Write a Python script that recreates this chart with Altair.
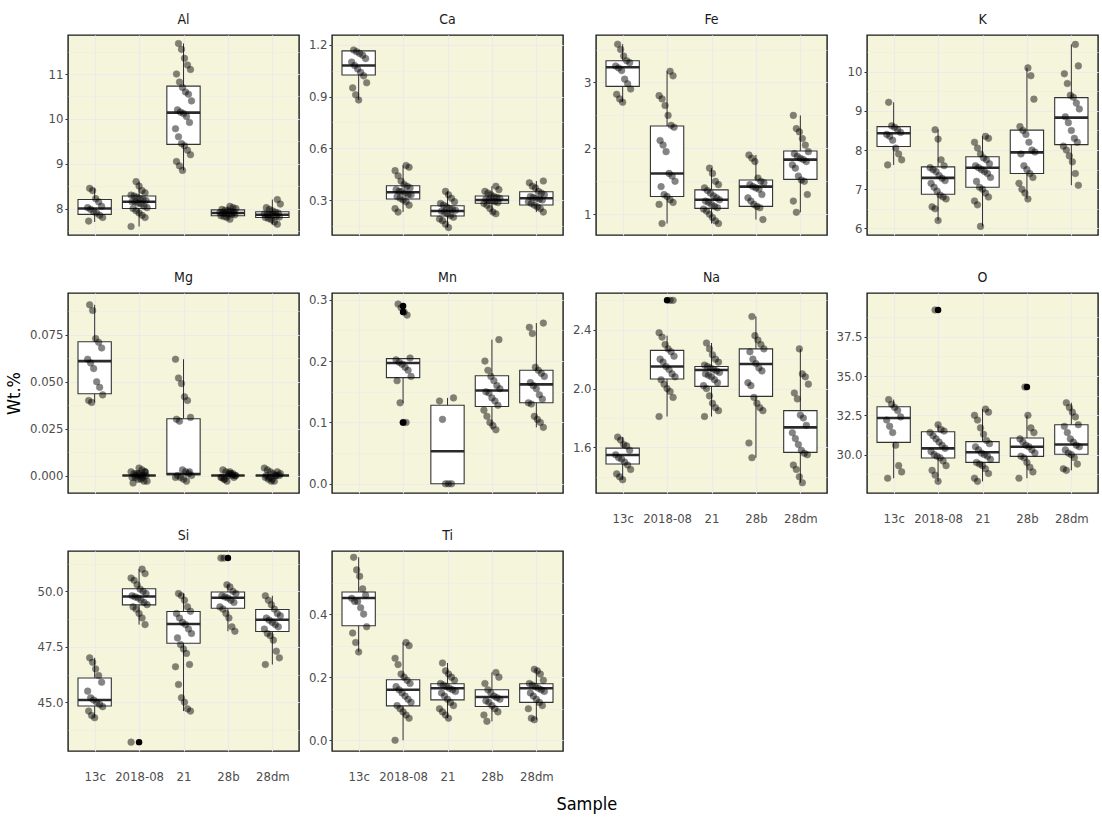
import json
import altair as alt
import pandas as pd

SAMPLES = ["13c", "2018-08", "21", "28b", "28dm"]
ELEMENTS = ["Al", "Ca", "Fe", "K", "Mg", "Mn", "Na", "O", "Si", "Ti"]

# ---------------- point values (Wt.%) ----------------
AL_PTS = {
    "13c": [8.45, 8.40, 8.22, 8.15, 8.05, 8.02, 7.98, 7.93, 7.90, 7.85, 7.80, 7.72],
    "2018-08": [8.60, 8.50, 8.40, 8.35, 8.30, 8.28, 8.25, 8.22, 8.20, 8.18, 8.15, 8.15, 8.12, 8.10, 8.05, 8.02, 8.00, 7.95, 7.90, 7.85, 7.80, 7.60],
    "21": [11.68, 11.55, 11.35, 11.20, 11.10, 11.00, 10.82, 10.70, 10.60, 10.55, 10.40, 10.20, 10.15, 10.12, 10.05, 9.92, 9.78, 9.60, 9.45, 9.40, 9.30, 9.20, 9.05, 8.95, 8.85],
    "28b": [8.05, 8.02, 8.00, 7.98, 7.96, 7.95, 7.94, 7.92, 7.91, 7.90, 7.89, 7.88, 7.87, 7.86, 7.84, 7.82, 7.80, 7.76],
    "28dm": [8.20, 8.10, 8.02, 7.98, 7.95, 7.92, 7.90, 7.88, 7.87, 7.86, 7.85, 7.83, 7.81, 7.80, 7.78, 7.75, 7.70, 7.65],
}
CA_PTS = {
    "13c": [1.17, 1.16, 1.15, 1.14, 1.12, 1.10, 1.08, 1.06, 1.04, 1.02, 0.98, 0.95, 0.91, 0.88],
    "2018-08": [0.50, 0.49, 0.47, 0.44, 0.41, 0.39, 0.38, 0.37, 0.36, 0.35, 0.35, 0.34, 0.33, 0.33, 0.32, 0.31, 0.30, 0.29, 0.27, 0.25, 0.23],
    "21": [0.35, 0.33, 0.31, 0.29, 0.28, 0.27, 0.26, 0.25, 0.245, 0.24, 0.235, 0.23, 0.22, 0.21, 0.20, 0.19, 0.18, 0.16, 0.14],
    "28b": [0.38, 0.36, 0.35, 0.34, 0.33, 0.32, 0.315, 0.31, 0.305, 0.30, 0.295, 0.29, 0.285, 0.28, 0.27, 0.25, 0.23, 0.22],
    "28dm": [0.41, 0.40, 0.38, 0.37, 0.35, 0.34, 0.33, 0.32, 0.315, 0.31, 0.305, 0.30, 0.29, 0.28, 0.27, 0.26, 0.25, 0.23],
}
FE_PTS = {
    "13c": [3.58, 3.50, 3.40, 3.33, 3.30, 3.25, 3.22, 3.18, 3.05, 2.98, 2.90, 2.82, 2.75, 2.70],
    "2018-08": [3.17, 3.10, 2.80, 2.75, 2.65, 2.50, 2.35, 2.32, 2.12, 2.05, 1.95, 1.62, 1.58, 1.50, 1.42, 1.30, 1.27, 1.22, 1.18, 1.15, 0.86],
    "21": [1.70, 1.62, 1.50, 1.45, 1.40, 1.36, 1.32, 1.28, 1.25, 1.22, 1.20, 1.18, 1.15, 1.12, 1.10, 1.08, 1.05, 1.00, 0.95, 0.90, 0.86],
    "28b": [1.90, 1.85, 1.80, 1.55, 1.50, 1.48, 1.45, 1.42, 1.40, 1.38, 1.30, 1.25, 1.20, 1.15, 1.12, 1.10, 0.92],
    "28dm": [2.50, 2.30, 2.25, 2.15, 2.05, 1.95, 1.92, 1.88, 1.85, 1.83, 1.80, 1.75, 1.70, 1.58, 1.52, 1.50, 1.30, 1.20, 1.03],
}
K_PTS = {
    "13c": [9.22, 8.62, 8.58, 8.52, 8.45, 8.40, 8.35, 8.25, 8.05, 7.90, 7.75, 7.62],
    "2018-08": [8.52, 8.28, 7.75, 7.60, 7.55, 7.50, 7.45, 7.35, 7.28, 7.22, 7.15, 7.05, 6.95, 6.85, 6.80, 6.75, 6.55, 6.50, 6.20],
    "21": [8.35, 8.30, 8.20, 8.05, 7.90, 7.80, 7.75, 7.65, 7.60, 7.55, 7.50, 7.45, 7.40, 7.30, 7.20, 7.05, 7.00, 6.90, 6.80, 6.70, 6.60, 6.05],
    "28b": [10.10, 9.90, 9.30, 8.60, 8.50, 8.40, 8.20, 8.00, 7.95, 7.90, 7.60, 7.50, 7.40, 7.30, 7.15, 7.00, 6.90, 6.75],
    "28dm": [10.70, 10.15, 9.95, 9.70, 9.40, 9.35, 9.20, 9.05, 8.85, 8.70, 8.50, 8.30, 8.20, 8.10, 8.00, 7.85, 7.70, 7.40, 7.10],
}
MG_PTS = {
    "13c": [0.091, 0.088, 0.073, 0.071, 0.068, 0.062, 0.060, 0.057, 0.050, 0.047, 0.043, 0.040, 0.039],
    "2018-08": [0.004, 0.003, 0.002, 0.002, 0.001, 0.001, 0.0, 0.0, 0.0, -0.001, -0.001, -0.002, -0.002, -0.003, -0.003, -0.004, 0.0, 0.001, -0.001, 0.002],
    "21": [0.062, 0.052, 0.049, 0.042, 0.040, 0.031, 0.030, 0.029, 0.003, 0.002, 0.001, 0.0, 0.0, -0.001, -0.002, -0.003, 0.002, -0.001],
    "28b": [0.003, 0.002, 0.001, 0.0, 0.0, -0.001, -0.002, -0.003, 0.002, 0.001, 0.0, -0.001, -0.002, 0.0, 0.001, -0.001],
    "28dm": [0.004, 0.003, 0.002, 0.001, 0.0, 0.0, -0.001, -0.002, -0.003, -0.003, 0.002, 0.001, 0.0, -0.001, -0.002, 0.0],
}
MN_PTS = {
    "13c": [],
    "2018-08": [0.293, 0.287, 0.280, 0.275, 0.205, 0.202, 0.198, 0.195, 0.190, 0.185, 0.175, 0.168, 0.132, 0.100, 0.100],
    "21": [0.140, 0.135, 0.105, 0.0, 0.0, 0.0],
    "28b": [0.235, 0.200, 0.185, 0.175, 0.168, 0.160, 0.155, 0.150, 0.148, 0.140, 0.135, 0.128, 0.120, 0.110, 0.100, 0.095, 0.088],
    "28dm": [0.262, 0.255, 0.245, 0.190, 0.185, 0.180, 0.175, 0.165, 0.160, 0.155, 0.145, 0.138, 0.132, 0.130, 0.110, 0.105, 0.100, 0.092],
}
NA_PTS = {
    "13c": [1.67, 1.65, 1.62, 1.61, 1.58, 1.55, 1.53, 1.52, 1.50, 1.48, 1.45, 1.42, 1.40, 1.38],
    "2018-08": [2.60, 2.60, 2.38, 2.35, 2.30, 2.27, 2.25, 2.22, 2.20, 2.18, 2.15, 2.13, 2.10, 2.08, 2.06, 2.03, 2.00, 1.98, 1.94, 1.81],
    "21": [2.31, 2.27, 2.23, 2.20, 2.18, 2.16, 2.15, 2.14, 2.13, 2.12, 2.11, 2.10, 2.09, 2.08, 2.06, 2.04, 2.02, 2.00, 1.95, 1.90, 1.87, 1.85, 1.81],
    "28b": [2.49, 2.36, 2.33, 2.30, 2.27, 2.25, 2.20, 2.17, 2.14, 2.12, 2.04, 2.02, 1.94, 1.90, 1.87, 1.85, 1.63, 1.53],
    "28dm": [2.27, 2.10, 2.08, 2.03, 1.97, 1.93, 1.82, 1.80, 1.75, 1.70, 1.66, 1.62, 1.58, 1.56, 1.55, 1.48, 1.45, 1.40, 1.36],
}
O_PTS = {
    "13c": [33.5, 33.2, 33.0, 32.8, 32.4, 32.2, 31.8, 31.4, 30.6, 29.3, 28.9, 28.5],
    "2018-08": [39.2, 31.9, 31.6, 31.5, 31.4, 31.2, 31.0, 30.8, 30.6, 30.4, 30.2, 30.0, 29.9, 29.8, 29.6, 29.3, 29.0, 28.7, 28.3],
    "21": [32.9, 32.7, 32.5, 32.2, 31.7, 31.3, 30.9, 30.7, 30.5, 30.3, 30.1, 30.0, 29.9, 29.7, 29.5, 29.4, 29.3, 29.1, 28.8, 28.5, 28.3],
    "28b": [34.3, 32.5, 31.7, 31.4, 31.0, 30.8, 30.6, 30.5, 30.3, 30.1, 29.9, 29.8, 29.5, 29.2, 28.9, 28.5],
    "28dm": [33.3, 33.0, 32.7, 32.4, 31.9, 31.8, 31.4, 31.0, 30.8, 30.6, 30.5, 30.3, 30.1, 30.0, 29.8, 29.4, 29.1, 29.0],
}
SI_PTS = {
    "13c": [47.0, 46.8, 46.5, 46.2, 45.9, 45.5, 45.2, 45.1, 45.0, 44.9, 44.8, 44.6, 44.4, 44.3],
    "2018-08": [51.0, 50.8, 50.6, 50.5, 50.3, 50.1, 50.0, 49.9, 49.8, 49.75, 49.7, 49.6, 49.5, 49.4, 49.3, 49.2, 49.0, 48.8, 48.5, 43.2],
    "21": [49.9, 49.8, 49.6, 49.3, 49.1, 49.0, 48.8, 48.6, 48.5, 48.3, 48.1, 47.9, 47.6, 47.4, 47.2, 46.7, 46.6, 45.8, 45.2, 45.0, 44.7, 44.6],
    "28b": [51.5, 51.5, 50.3, 50.2, 50.0, 49.9, 49.8, 49.75, 49.7, 49.6, 49.5, 49.3, 49.2, 49.0, 48.8, 48.4, 48.2],
    "28dm": [49.8, 49.6, 49.4, 49.2, 49.0, 48.9, 48.8, 48.7, 48.6, 48.5, 48.4, 48.3, 48.1, 48.0, 47.8, 47.3, 47.0, 46.7],
}
TI_PTS = {
    "13c": [0.58, 0.54, 0.52, 0.48, 0.46, 0.45, 0.44, 0.44, 0.42, 0.40, 0.36, 0.34, 0.31, 0.28],
    "2018-08": [0.31, 0.30, 0.26, 0.24, 0.21, 0.20, 0.19, 0.18, 0.17, 0.16, 0.15, 0.14, 0.13, 0.12, 0.11, 0.10, 0.09, 0.08, 0.07, 0.0],
    "21": [0.245, 0.22, 0.21, 0.20, 0.19, 0.18, 0.175, 0.17, 0.165, 0.16, 0.155, 0.15, 0.14, 0.13, 0.12, 0.11, 0.10, 0.09, 0.08, 0.07],
    "28b": [0.215, 0.20, 0.18, 0.16, 0.15, 0.14, 0.135, 0.13, 0.125, 0.12, 0.11, 0.10, 0.09, 0.08, 0.06],
    "28dm": [0.225, 0.22, 0.21, 0.19, 0.18, 0.175, 0.17, 0.165, 0.16, 0.155, 0.15, 0.14, 0.13, 0.12, 0.11, 0.10, 0.07, 0.065],
}

# ---------------- box statistics (lower whisker, Q1, median, Q3, upper whisker) per sample ----------------
AL_BOX = {"lo": [7.70, 7.60, 8.85, 7.76, 7.65], "q1": [7.87, 8.00, 9.43, 7.84, 7.80], "med": [8.00, 8.15, 10.14, 7.90, 7.86], "q3": [8.20, 8.28, 10.73, 7.97, 7.93], "hi": [8.45, 8.60, 11.68, 8.05, 8.20]}
CA_BOX = {"lo": [0.88, 0.23, 0.14, 0.22, 0.23], "q1": [1.025, 0.306, 0.207, 0.281, 0.271], "med": [1.08, 0.345, 0.236, 0.300, 0.310], "q3": [1.165, 0.383, 0.267, 0.323, 0.348], "hi": [1.17, 0.50, 0.35, 0.38, 0.41]}
FE_BOX = {"lo": [2.70, 0.86, 0.86, 0.92, 1.03], "q1": [2.94, 1.27, 1.09, 1.12, 1.53], "med": [3.23, 1.62, 1.22, 1.42, 1.83], "q3": [3.33, 2.34, 1.37, 1.52, 1.96], "hi": [3.58, 3.17, 1.70, 1.90, 2.50]}
K_BOX = {"lo": [7.62, 6.20, 6.05, 6.75, 7.10], "q1": [8.09, 6.87, 7.05, 7.40, 8.14], "med": [8.43, 7.29, 7.55, 7.94, 8.83], "q3": [8.60, 7.57, 7.83, 8.51, 9.34], "hi": [9.22, 8.52, 8.35, 10.10, 10.70]}
MG_BOX = {"lo": [0.039, 0.0, 0.0005, 0.0, 0.0], "q1": [0.0436, 0.0, 0.0005, 0.0, 0.0], "med": [0.061, 0.0, 0.0008, 0.0, 0.0], "q3": [0.0713, 0.0, 0.0303, 0.0, 0.0], "hi": [0.091, 0.0, 0.062, 0.0, 0.0]}
MN_BOX = {"lo": [None, 0.132, 0.0, 0.088, 0.092], "q1": [None, 0.173, 0.0, 0.126, 0.132], "med": [None, 0.197, 0.053, 0.152, 0.162], "q3": [None, 0.204, 0.128, 0.176, 0.185], "hi": [None, 0.205, 0.140, 0.235, 0.262]}
NA_BOX = {"lo": [1.38, 1.81, 1.81, 1.53, 1.36], "q1": [1.487, 2.065, 2.015, 1.947, 1.566], "med": [1.548, 2.150, 2.126, 2.167, 1.736], "q3": [1.595, 2.260, 2.150, 2.270, 1.850], "hi": [1.67, 2.36, 2.31, 2.49, 2.27]}
O_BOX = {"lo": [28.5, 28.3, 28.3, 28.5, 29.0], "q1": [30.78, 29.79, 29.51, 29.89, 30.02], "med": [32.33, 30.40, 30.15, 30.50, 30.64], "q3": [33.05, 31.46, 30.83, 31.06, 31.90], "hi": [33.5, 31.9, 32.9, 32.5, 33.3]}
SI_BOX = {"lo": [44.3, 48.5, 44.6, 48.2, 46.7], "q1": [44.83, 49.39, 47.66, 49.24, 48.19], "med": [45.10, 49.77, 48.53, 49.71, 48.72], "q3": [46.09, 50.12, 49.09, 49.97, 49.18], "hi": [47.0, 51.0, 49.9, 50.3, 49.8]}
TI_BOX = {"lo": [0.28, 0.0, 0.07, 0.06, 0.065], "q1": [0.363, 0.109, 0.128, 0.107, 0.120], "med": [0.451, 0.160, 0.165, 0.137, 0.165], "q3": [0.470, 0.192, 0.179, 0.160, 0.179], "hi": [0.58, 0.31, 0.245, 0.215, 0.225]}

# ---------------- outliers drawn by the box plot ----------------
AL_OUT = {}
CA_OUT = {}
FE_OUT = {}
K_OUT = {}
MG_OUT = {}
MN_OUT = {"2018-08": [0.290, 0.280, 0.100]}
NA_OUT = {"2018-08": [2.60]}
O_OUT = {"2018-08": [39.2], "28b": [34.3]}
SI_OUT = {"2018-08": [43.2], "28b": [51.5]}
TI_OUT = {}

# ---------------- y axis settings ----------------
Y_DOMAINS = {
    "Al": [7.41, 11.87], "Ca": [0.097, 1.257], "Fe": [0.686, 3.72], "K": [5.83, 10.94],
    "Mg": [-0.0093, 0.0973], "Mn": [-0.015, 0.311], "Na": [1.29, 2.65], "O": [27.56, 40.28],
    "Si": [42.80, 51.82], "Ti": [-0.034, 0.60],
}
Y_MAJOR = {
    "Al": [8, 9, 10, 11], "Ca": [0.3, 0.6, 0.9, 1.2], "Fe": [1, 2, 3], "K": [6, 7, 8, 9, 10],
    "Mg": [0, 0.025, 0.05, 0.075], "Mn": [0, 0.1, 0.2, 0.3], "Na": [1.6, 2.0, 2.4],
    "O": [30, 32.5, 35, 37.5], "Si": [45, 47.5, 50], "Ti": [0, 0.2, 0.4],
}
Y_MINOR = {
    "Al": [7.5, 8.5, 9.5, 10.5, 11.5], "Ca": [0.15, 0.45, 0.75, 1.05], "Fe": [1.5, 2.5, 3.5],
    "K": [6.5, 7.5, 8.5, 9.5, 10.5], "Mg": [0.0125, 0.0375, 0.0625, 0.0875],
    "Mn": [0.05, 0.15, 0.25], "Na": [1.4, 1.8, 2.2, 2.6], "O": [28.75, 31.25, 33.75, 36.25, 38.75],
    "Si": [43.75, 46.25, 48.75, 51.25], "Ti": [0.1, 0.3, 0.5],
}
Y_FMT = {"Al": ".0f", "Ca": ".1f", "Fe": ".0f", "K": ".0f", "Mg": ".3f", "Mn": ".1f",
         "Na": ".1f", "O": ".1f", "Si": ".1f", "Ti": ".1f"}

PTS = {"Al": AL_PTS, "Ca": CA_PTS, "Fe": FE_PTS, "K": K_PTS, "Mg": MG_PTS, "Mn": MN_PTS,
       "Na": NA_PTS, "O": O_PTS, "Si": SI_PTS, "Ti": TI_PTS}
BOX = {"Al": AL_BOX, "Ca": CA_BOX, "Fe": FE_BOX, "K": K_BOX, "Mg": MG_BOX, "Mn": MN_BOX,
       "Na": NA_BOX, "O": O_BOX, "Si": SI_BOX, "Ti": TI_BOX}
OUT = {"Al": AL_OUT, "Ca": CA_OUT, "Fe": FE_OUT, "K": K_OUT, "Mg": MG_OUT, "Mn": MN_OUT,
       "Na": NA_OUT, "O": O_OUT, "Si": SI_OUT, "Ti": TI_OUT}

BOTTOM = {"Na", "O", "Si", "Ti"}

FONT = "Liberation Sans Narrow, Arial Narrow, DejaVu Sans Condensed, Liberation Sans, sans-serif"
LABEL_COLOR = "#4D4D4D"
W, H = 231, 200
HALF_BOX = 0.375   # box half-width in category units (ggplot width 0.75)
JIT = 0.18         # jitter half-width in category units
S_JSON = json.dumps(SAMPLES)


def panel(el):
    majors = Y_MAJOR[el]
    ticks = sorted(Y_MAJOR[el] + Y_MINOR[el])
    is_major = f"indexof({json.dumps(majors)}, datum.value) >= 0"
    yaxis = alt.Axis(
        values=ticks,
        labelExpr=f"{is_major} ? format(datum.value, '{Y_FMT[el]}') : ''",
        title="Wt.%" if el == "Mg" else None,
        titleFont=FONT, titleFontSize=18, titleColor="black", titleFontWeight="normal",
        titlePadding=6,
        grid=True,
        gridColor="#EBEBEB",
        gridWidth={"condition": {"test": is_major, "value": 1.1}, "value": 0.6},
        tickColor={"condition": {"test": is_major, "value": "#333333"}, "value": "transparent"},
        tickSize=3, domain=False, labelPadding=2,
        labelFont=FONT, labelFontSize=13, labelColor=LABEL_COLOR,
    )
    bottom = el in BOTTOM
    xaxis = alt.Axis(
        title=None, values=list(range(len(SAMPLES))), labelExpr=f"{S_JSON}[datum.value]",
        labelAngle=0, grid=True, gridColor="#EBEBEB", gridWidth=1.1,
        domain=False, ticks=False, labelPadding=19,
        labelColor=LABEL_COLOR if bottom else "transparent",
        labelFont=FONT, labelFontSize=13,
    )
    xscale = alt.Scale(domain=[-0.6, len(SAMPLES) - 0.4], nice=False, zero=False)
    yscale = alt.Scale(domain=Y_DOMAINS[el], nice=False, zero=False)

    def X(field):
        return alt.X(f"{field}:Q", scale=xscale, axis=xaxis)

    def Y(field):
        return alt.Y(f"{field}:Q", scale=yscale, axis=yaxis)

    b = BOX[el]
    box_rows = []
    for i, s in enumerate(SAMPLES):
        if b["q1"][i] is None:
            continue
        box_rows.append({"Sample": s, "lo": b["lo"][i], "q1": b["q1"][i], "med": b["med"][i],
                         "q3": b["q3"][i], "hi": b["hi"][i]})
    box_df = pd.DataFrame(box_rows)
    pts_df = pd.DataFrame([{"Sample": s, "Value": v} for s in SAMPLES for v in PTS[el][s]])
    out_rows = [{"Sample": s, "Value": v} for s, vals in OUT[el].items() for v in vals]
    out_df = pd.DataFrame(out_rows if out_rows else [{"Sample": "13c", "Value": None}])

    idx_expr = f"indexof({S_JSON}, datum.Sample)"
    box_base = alt.Chart(box_df).transform_calculate(
        idx=idx_expr
    ).transform_calculate(
        xl=f"datum.idx - {HALF_BOX}", xr=f"datum.idx + {HALF_BOX}"
    )

    whisker = box_base.mark_rule(color="#333333", strokeWidth=1).encode(
        x=X("idx"), y=Y("lo"), y2="hi")
    box = box_base.mark_rect(fill="white", stroke="#333333", strokeWidth=1.1).encode(
        x=X("xl"), x2="xr", y=Y("q1"), y2="q3")
    med = box_base.mark_rule(color="#2A2A2A", strokeWidth=2.6).encode(
        x=X("xl"), x2="xr", y=Y("med"))
    outl = alt.Chart(out_df).transform_filter("isValid(datum.Value)").transform_calculate(
        idx=idx_expr
    ).mark_circle(color="black", opacity=1, size=42).encode(x=X("idx"), y=Y("Value"))
    points = alt.Chart(pts_df).transform_window(
        rn="row_number()"
    ).transform_calculate(
        jx=f"{idx_expr} + (((datum.rn * 37) % 17) / 16) * {2 * JIT} - {JIT}"
    ).mark_circle(color="black", opacity=0.48, size=44, stroke="black", strokeWidth=0.6).encode(
        x=X("jx"), y=Y("Value"),
    )
    return alt.layer(whisker, box, med, outl, points).properties(
        width=W, height=H,
        title=alt.TitleParams(el, font=FONT, fontSize=14, fontWeight="normal", color="#1A1A1A", offset=8),
    )


panels = [panel(el) for el in ELEMENTS]

chart = alt.concat(
    *panels, columns=4, spacing={"row": 2, "column": 7}, align="each"
).properties(
    title=alt.TitleParams("Sample", orient="bottom", anchor="middle", font=FONT, fontSize=18,
                          fontWeight="normal", color="black", dx=35, offset=12),
    padding={"left": 4, "top": 12, "right": 1, "bottom": 4},
).configure_view(
    fill="#F5F5DC", stroke="#1A1A1A", strokeWidth=1.4
)

chart.save("out.html", embed_options={"renderer": "svg", "actions": False})
